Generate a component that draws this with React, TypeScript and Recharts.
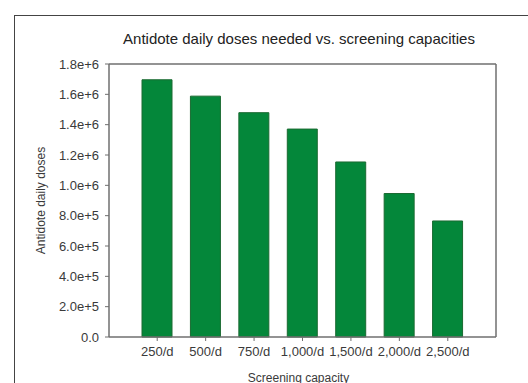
import React from 'react';
import { BarChart, Bar, XAxis, YAxis, Label } from 'recharts';

// Screening capacity per day and the antidote doses needed for each
const capacities: string[] = ['250/d', '500/d', '750/d', '1,000/d', '1,500/d', '2,000/d', '2,500/d'];
const doses: number[] = [1696000, 1588000, 1479000, 1371000, 1154000, 946000, 765000];
const yTicks: number[] = [0, 200000, 400000, 600000, 800000, 1000000, 1200000, 1400000, 1600000, 1800000];

const chartData = capacities.map((c, i) => ({ capacity: c, doses: doses[i] }));

// SigmaPlot-style scientific labels: 1.8e+6, 8.0e+5, 0.0
const sci = (v: number): string => {
  if (v === 0) return '0.0';
  const exp = Math.floor(Math.log10(v));
  const mant = v / Math.pow(10, exp);
  return `${mant.toFixed(1)}e+${exp}`;
};

const font = '"Liberation Sans", Arial, sans-serif';
const axisGrey = '#6f6f6f';
const tickStyle = { fontSize: 13, fill: '#3a3a3a', fontFamily: font };

export default function App() {
  return (
    <div style={{ position: 'absolute', left: 0, top: 0, width: 528, height: 383, background: '#fff', overflow: 'hidden' }}>
      {/* outer frame of the figure */}
      <div style={{ position: 'absolute', left: 14, top: 15, right: -5, bottom: -5, borderLeft: '1px solid #444', borderTop: '1px solid #444' }} />
      <div
        style={{
          position: 'absolute',
          left: 0,
          width: 598,
          top: 30,
          textAlign: 'center',
          fontFamily: font,
          fontSize: 15,
          color: '#222',
        }}
      >
        Antidote daily doses needed vs. screening capacities
      </div>
      <BarChart
        width={528}
        height={383}
        data={chartData}
        margin={{ top: 63, right: 31, left: 0, bottom: 0 }}
        barSize={30}
        style={{ position: 'absolute', left: 0, top: 0 }}
      >
        <XAxis
          dataKey="capacity"
          height={46}
          padding={{ left: 24, right: 24 }}
          axisLine={{ stroke: axisGrey, strokeWidth: 1.5 }}
          tickLine={{ stroke: axisGrey }}
          tickSize={4}
          tickMargin={6}
          tick={tickStyle}
          interval={0}
        >
          <Label value="Screening capacity" position="insideBottom" offset={1} dx={-4} style={{ fontSize: 12, fill: '#3a3a3a', fontFamily: font }} />
        </XAxis>
        {/* top and right edges of the plot frame */}
        <XAxis xAxisId="top" dataKey="capacity" orientation="top" height={1} tick={false} tickLine={false} axisLine={{ stroke: axisGrey, strokeWidth: 1.5 }} />
        <YAxis
          domain={[0, 1800000]}
          ticks={yTicks}
          tickFormatter={sci}
          width={109}
          axisLine={{ stroke: axisGrey, strokeWidth: 1.5 }}
          tickLine={{ stroke: axisGrey }}
          tickSize={4}
          tickMargin={6}
          tick={tickStyle}
          interval={0}
        >
          <Label value="Antidote daily doses" position="center" angle={-90} dx={-14} style={{ fontSize: 12, fill: '#3a3a3a', fontFamily: font, textAnchor: 'middle' }} />
        </YAxis>
        <YAxis yAxisId="right" orientation="right" width={1} domain={[0, 1800000]} tick={false} tickLine={false} axisLine={{ stroke: axisGrey, strokeWidth: 1.5 }} />
        <Bar dataKey="doses" fill="#04873a" stroke="#1a6a31" strokeWidth={1} isAnimationActive={false} />
      </BarChart>
    </div>
  );
}
